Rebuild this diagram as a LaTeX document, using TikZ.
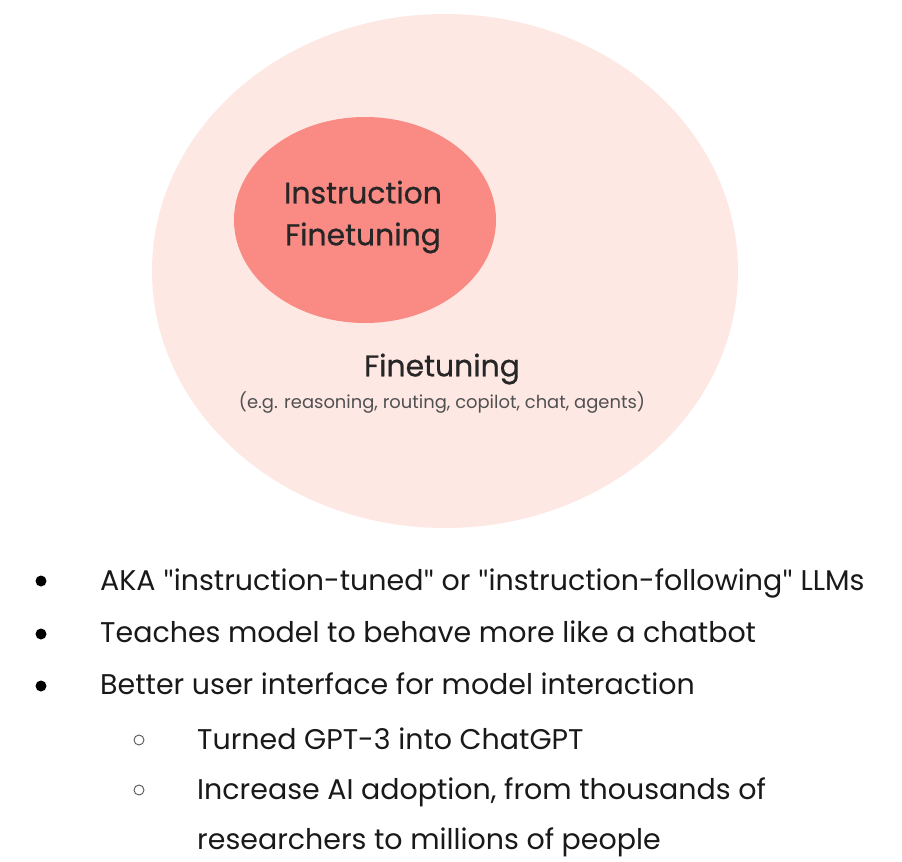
\documentclass[tikz,border=0pt]{standalone}
\usepackage{fontspec}
\setmainfont{Poppins}
\newfontfamily\medfont{Poppins}[FakeBold=0.7]
\newfontfamily\quotefont{Lato}
\usepackage{xcolor}
\usetikzlibrary{positioning}
\definecolor{outerpink}{RGB}{253,232,228}
\definecolor{innersalmon}{RGB}{249,138,132}
\definecolor{subgray}{RGB}{80,80,80}
\newcommand{\dq}{{\quotefont\symbol{34}}}
\tikzset{
  bigtext/.style={font=\medfont\fontsize{25.5}{35.7}\selectfont, align=center, text=black!85},
  itemtext/.style={anchor=base west, font=\fontsize{24.3}{29}\selectfont, text=black!90, inner sep=0pt},
  dotmark/.style={fill=black, draw=none},
  ringmark/.style={draw=black!65, line width=0.8pt, fill=none}
}
\begin{document}
\begin{tikzpicture}[line cap=round,line join=round,x=0.03cm,y=-0.03cm]
		\useasboundingbox[fill=white] (0,0) rectangle (902,861);
		\fill [outerpink] (445,271) ellipse (293 and 257);
		\fill [innersalmon] (365,220) ellipse (131 and 103);
		\node [bigtext] (inner) at (363,217) {Instruction\\Finetuning};
		\node [bigtext] (outer) at (442,369) {Finetuning};
		\node [font=\fontsize{15.3}{18}\selectfont, text=subgray] (examples) at (442,403) {(e.g. reasoning, routing, copilot, chat, agents)};
		% bullet list
		\fill [dotmark] (41,581) circle (5.5);
		\node [itemtext] (aka) at (100,590) {AKA \dq instruction-tuned\dq{} or \dq instruction-following\dq{} LLMs};
		\fill [dotmark] (41,634) circle (5.5);
		\node [itemtext] (teach) at (100,642) {Teaches model to behave more like a chatbot};
		\fill [dotmark] (41,686) circle (5.5);
		\node [itemtext] (better) at (100,694) {Better user interface for model interaction};
		\draw [ringmark] (139,740) circle (5);
		\node [itemtext] (gpt) at (197,749) {Turned GPT-3 into ChatGPT};
		\draw [ringmark] (139,790) circle (5);
		\node [itemtext] (adopt) at (197,799) {Increase AI adoption, from thousands of};
		\node [itemtext] (people) at (197,849) {researchers to millions of people};
	\end{tikzpicture}
\end{document}
